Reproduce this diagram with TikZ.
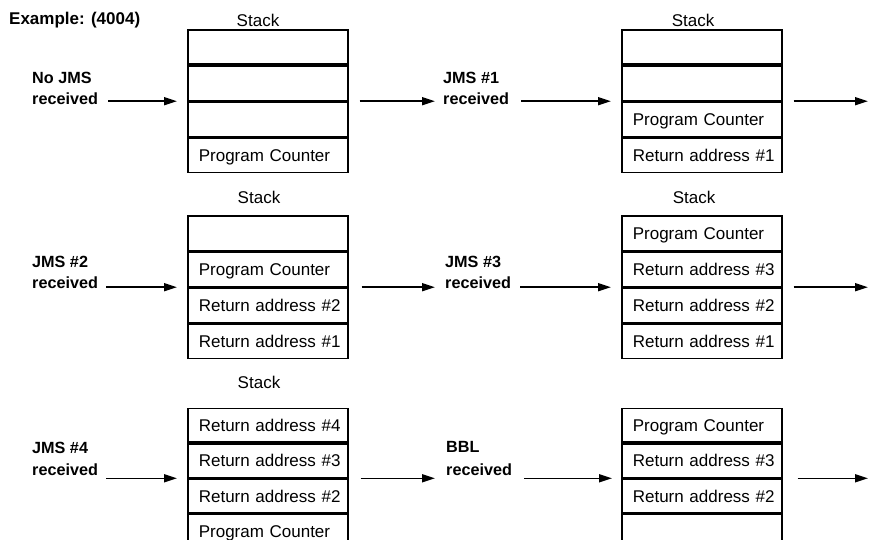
\documentclass[tikz,border=0pt]{standalone}
\usepackage{fontspec}
\setmainfont{Liberation Sans}
\usetikzlibrary{arrows.meta}
\begin{document}
\begin{tikzpicture}[x=1pt,y=-1pt,
  cell/.style={draw, line width=1.6pt, rectangle, minimum width=160pt, minimum height=34.5pt,
    text width=154pt, inner xsep=3pt, inner ysep=0pt, align=left,
    text height=12.2pt, text depth=0pt, execute at begin node={\hspace*{8pt}},
    font=\fontsize{17}{19}\selectfont, anchor=north west},
  lowcell/.style={cell, minimum height=33.8pt},
  lbl/.style={font=\bfseries\fontsize{16.2}{19}\selectfont, anchor=west, inner sep=0pt},
  stk/.style={font=\fontsize{17}{19}\selectfont, inner sep=0pt},
  arr/.style={line width=1.6pt, -{Triangle[length=13pt,width=8pt]}}]
\useasboundingbox (0,0) rectangle (869,540);
\clip (0,0) rectangle (869,540);
\fill[white] (0,0) rectangle (869,540);
\coordinate (E) at (868,0);

% title
\node[lbl, font=\bfseries\fontsize{17}{19}\selectfont] (ex) at (9,20) {Example: (4004)};

% ---------- row 1 ----------
\node[stk] (s1) at (258,20) {Stack};
\node[cell] (a1) at (187,29) {};
\node[cell] (a2) at (a1.south west) {};
\node[cell] (a3) at (a2.south west) {};
\node[cell] (a4) at (a3.south west) {Program Counter};

\node[stk] (s2) at (693,20) {Stack};
\node[cell] (b1) at (621,29) {};
\node[cell] (b2) at (b1.south west) {};
\node[cell] (b3) at (b2.south west) {Program Counter};
\node[cell] (b4) at (b3.south west) {Return address \#1};

\node[lbl] (l0) at (32,78) {No JMS};
\node[lbl] (r0) at (32,99) {received};
\node[lbl] (l1) at (443,78) {JMS \#1};
\node[lbl] (r1) at (443,99) {received};

\draw[arr, shorten <=10pt, shorten >=10pt] (r0.east |- a2.south west) -- (a2.south west);
\draw[arr, shorten <=11pt, shorten >=8pt] (a2.south east) -- (a2.south east -| l1.west);
\draw[arr, shorten <=12pt, shorten >=10pt] (r1.east |- b2.south west) -- (b2.south west);
\draw[arr, shorten <=11pt] (b2.south east) -- (b2.south east -| E);

% ---------- row 2 ----------
\node[stk] (s3) at (259,197) {Stack};
\node[cell] (c1) at (187,215) {};
\node[cell] (c2) at (c1.south west) {Program Counter};
\node[cell] (c3) at (c2.south west) {Return address \#2};
\node[cell] (c4) at (c3.south west) {Return address \#1};

\node[stk] (s4) at (694,197) {Stack};
\node[cell] (d1) at (621,215) {Program Counter};
\node[cell] (d2) at (d1.south west) {Return address \#3};
\node[cell] (d3) at (d2.south west) {Return address \#2};
\node[cell] (d4) at (d3.south west) {Return address \#1};

\node[lbl] (l2) at (32,262) {JMS \#2};
\node[lbl] (r2) at (32,283) {received};
\node[lbl] (l3) at (445,262) {JMS \#3};
\node[lbl] (r3) at (445,283) {received};

\draw[arr, shorten <=8pt, shorten >=10pt] (r2.east |- c2.south west) -- (c2.south west);
\draw[arr, shorten <=13pt, shorten >=10pt] (c2.south east) -- (c2.south east -| l3.west);
\draw[arr, shorten <=9pt, shorten >=10pt] (r3.east |- d2.south west) -- (d2.south west);
\draw[arr, shorten <=11pt] (d2.south east) -- (d2.south east -| E);

% ---------- row 3 ----------
\node[stk] (s5) at (259,382) {Stack};
\node[lowcell] (e1) at (187,407.5) {Return address \#4};
\node[lowcell] (e2) at (e1.south west) {Return address \#3};
\node[lowcell] (e3) at (e2.south west) {Return address \#2};
\node[lowcell] (e4) at (e3.south west) {Program Counter};

\node[lowcell] (f1) at (621,407.5) {Program Counter};
\node[lowcell] (f2) at (f1.south west) {Return address \#3};
\node[lowcell] (f3) at (f2.south west) {Return address \#2};
\node[lowcell] (f4) at (f3.south west) {};

\node[lbl] (l4) at (32,448) {JMS \#4};
\node[lbl] (r4) at (32,470) {received};
\node[lbl] (l5) at (446,447) {BBL};
\node[lbl] (r5) at (446,470) {received};

\draw[arr, shorten <=8pt, shorten >=10pt] (r4.east |- e2.south west) -- (e2.south west);
\draw[arr, shorten <=12pt, shorten >=11pt] (e2.south east) -- (e2.south east -| l5.west);
\draw[arr, shorten <=12pt, shorten >=9pt] (r5.east |- f2.south west) -- (f2.south west);
\draw[arr, shorten <=15pt] (f2.south east) -- (f2.south east -| E);
\end{tikzpicture}
\end{document}
